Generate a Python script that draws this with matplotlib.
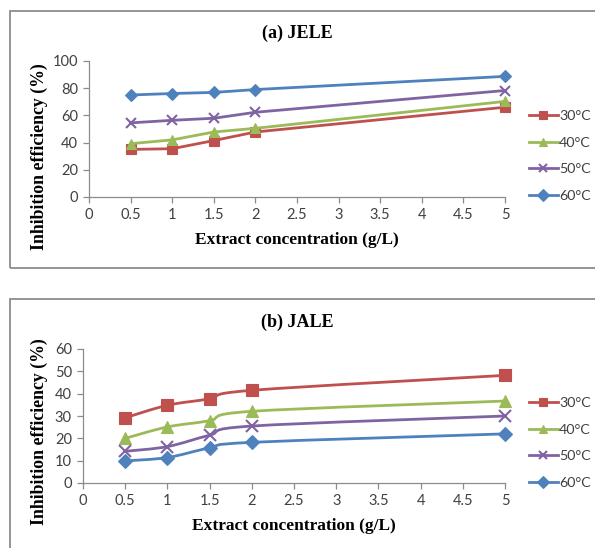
import numpy as np
import matplotlib
matplotlib.use("Agg")
import matplotlib.pyplot as plt
from matplotlib.path import Path
from matplotlib.patches import PathPatch, Rectangle
from matplotlib.lines import Line2D

# data
conc = [0.5, 1, 1.5, 2, 5]
temps = ["30°C", "40°C", "50°C", "60°C"]

jele_30 = [35, 35.5, 41.5, 47.8, 66]
jele_40 = [39.2, 42, 47.8, 50.5, 70.3]
jele_50 = [54.5, 56.4, 57.9, 62.3, 78.3]
jele_60 = [75, 76.1, 76.9, 79, 88.7]

jale_30 = [29.2, 34.8, 37.7, 41.5, 48.2]
jale_40 = [20, 25.1, 27.9, 32.1, 36.7]
jale_50 = [14.2, 16.3, 21.4, 25.5, 30]
jale_60 = [9.9, 11.4, 15.7, 18.2, 22]

colors = ["#C0504D", "#9BBB59", "#8064A2", "#4F81BD"]
markers = ["s", "^", "x", "D"]

serif = ["Liberation Serif", "DejaVu Serif"]
sans = ["Lato", "DejaVu Sans"]
tick_col = "#404040"
spine_col = "#8c8c8c"


def smooth_path(x, y):
    # excel style smoothed line, bezier between points
    x = np.asarray(x, float)
    y = np.asarray(y, float)
    px = np.concatenate([[x[0]], x, [x[-1]]])
    py = np.concatenate([[y[0]], y, [y[-1]]])
    verts = [(x[0], y[0])]
    codes = [Path.MOVETO]
    for i in range(len(x) - 1):
        c1 = (x[i] + (px[i + 2] - px[i]) / 6, y[i] + (py[i + 2] - py[i]) / 6)
        c2 = (x[i + 1] - (px[i + 3] - px[i + 1]) / 6, y[i + 1] - (py[i + 3] - py[i + 1]) / 6)
        verts += [c1, c2, (x[i + 1], y[i + 1])]
        codes += [Path.CURVE4] * 3
    return Path(verts, codes)


def panel(ax, series, title, ymax, ystep, smooth, msizes, title_y, ylab_y, leg_y):
    for vals, c, m, ms in zip(series, colors, markers, msizes):
        if smooth:
            ax.add_patch(PathPatch(smooth_path(conc, vals), fill=False,
                                   edgecolor=c, lw=2.0, zorder=2))
            ax.plot(conc, vals, ls="none", marker=m, color=c, ms=ms,
                    mew=1.5 if m == "x" else 0.8, zorder=3, clip_on=False)
        else:
            ax.plot(conc, vals, "-", marker=m, color=c, ms=ms, lw=2.0,
                    mew=1.5 if m == "x" else 0.8, zorder=3, clip_on=False)
    ax.set_xlim(0, 5)
    ax.set_ylim(0, ymax)
    ax.set_xticks(np.arange(0, 5.01, 0.5))
    ax.set_xticklabels(["0", "0.5", "1", "1.5", "2", "2.5", "3", "3.5", "4", "4.5", "5"])
    ax.set_yticks(np.arange(0, ymax + 0.1, ystep))
    for s in ["top", "right"]:
        ax.spines[s].set_visible(False)
    for s in ["left", "bottom"]:
        ax.spines[s].set_color(spine_col)
        ax.spines[s].set_linewidth(0.9)
    ax.tick_params(direction="out", length=4, width=0.9, color=spine_col,
                   labelcolor=tick_col, labelsize=10.5, pad=4)
    for lab in ax.get_xticklabels() + ax.get_yticklabels():
        lab.set_family(sans)
    ax.set_xlabel("Extract concentration (g/L)", family=serif, fontsize=12.5,
                  fontweight="bold", labelpad=7)
    fig.text(0.5, title_y, title, family=serif, fontsize=13,
             fontweight="bold", ha="center", va="center")
    fig.text(0.066, ylab_y, "Inhibition efficiency (%)", family=serif,
             fontsize=12.8, fontweight="bold", rotation=90,
             ha="center", va="center")

    handles = [Line2D([], [], color=c, marker=m, lw=2.0, ms=6,
                      mew=1.5 if m == "x" else 0.8)
               for c, m in zip(colors, markers)]
    leg = fig.legend(handles, temps, loc="center left",
                     bbox_to_anchor=(529 / 595, leg_y),
                     bbox_transform=fig.transFigure,
                     frameon=False, handlelength=2.0, handletextpad=0.1,
                     labelspacing=1.02, borderpad=0, borderaxespad=0,
                     prop={"family": sans, "size": 10.3})
    for t in leg.get_texts():
        t.set_color(tick_col)


fig = plt.figure(figsize=(5.95, 5.48), dpi=100)

ax1 = fig.add_axes([89 / 595, 1 - 197 / 548, 416 / 595, 136 / 548])
panel(ax1, [jele_30, jele_40, jele_50, jele_60], "(a) JELE", 100, 20, False,
      [7, 7, 7, 6], 1 - 33 / 548, 1 - 157 / 548, 1 - 156 / 548)

ax2 = fig.add_axes([83 / 595, 1 - 483 / 548, 422 / 595, 134 / 548])
panel(ax2, [jale_30, jale_40, jale_50, jale_60], "(b) JALE", 60, 10, True,
      [9, 9, 9, 7], 1 - 322 / 548, 1 - 432 / 548, 1 - 443 / 548)

# boxes round both charts
fig.patches.append(Rectangle((10 / 595, 1 - 268 / 548), 600 / 595, 257 / 548,
                             transform=fig.transFigure, fill=False,
                             edgecolor="#8c8c8c", lw=1.3))
fig.patches.append(Rectangle((10 / 595, -0.1), 600 / 595, 0.1 + 1 - 299 / 548,
                             transform=fig.transFigure, fill=False,
                             edgecolor="#8c8c8c", lw=1.3))

fig.savefig("out.png", dpi=100)
